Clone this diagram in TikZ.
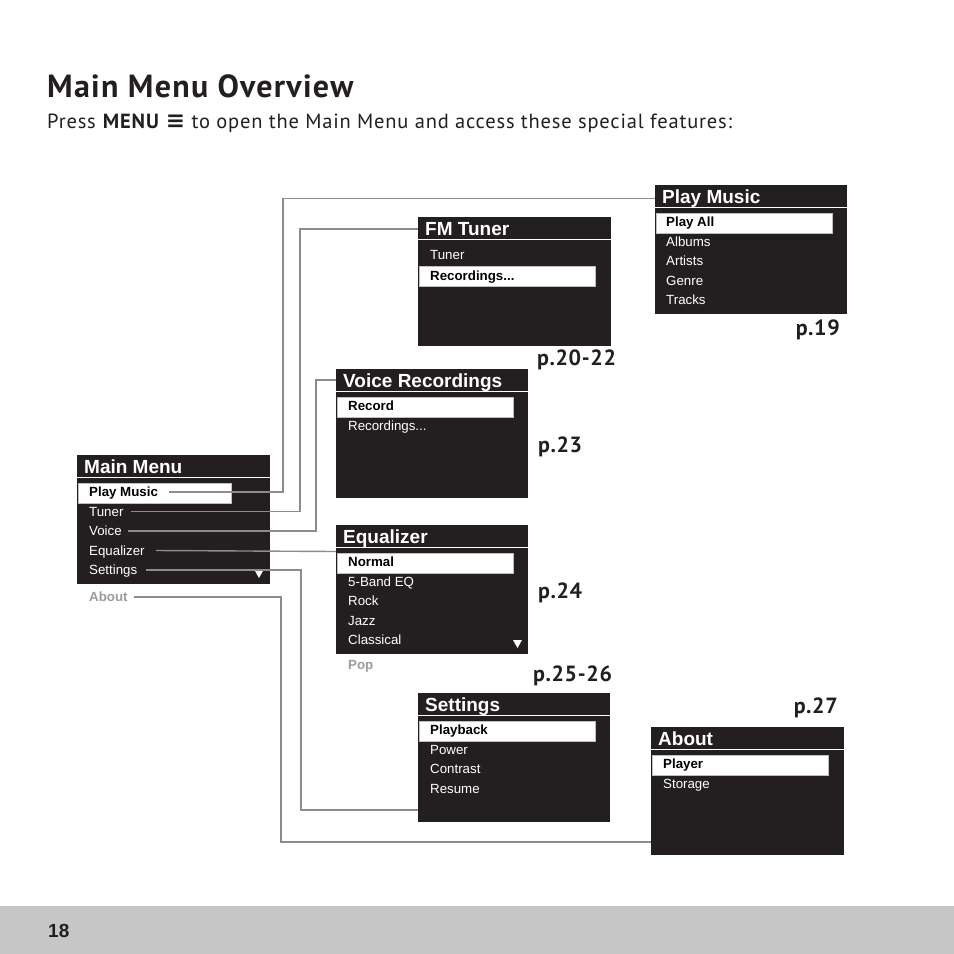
\documentclass[tikz,border=0pt]{standalone}
\usepackage{fontspec}
\setmainfont{PT Sans}
\newfontfamily\lcd{Liberation Sans}
\newfontfamily\headfont[LetterSpace=4]{PT Sans}
\newfontfamily\pagefont[LetterSpace=3]{PT Sans}
\newfontfamily\symfont{DejaVu Sans}
\usetikzlibrary{calc,positioning}
\definecolor{lcdblack}{HTML}{231F20}
\definecolor{ink}{HTML}{231F20}
\definecolor{wiregray}{HTML}{8C8C8C}
\definecolor{dimgray}{HTML}{9B9B9B}
\definecolor{footgray}{HTML}{C6C6C6}

\begin{document}
\begin{tikzpicture}[x=1pt, y=-1pt,
    screen/.style={fill=lcdblack, anchor=north west, minimum width=193pt, minimum height=129pt, inner sep=0pt},
    bar/.style={white, line width=1pt},
    scrtitle/.style={anchor=base west, inner sep=0pt, text=white, font=\lcd\bfseries\fontsize{19}{20}\selectfont},
    hilite/.style={fill=white, draw=black!25, line width=0.5pt, anchor=north west, minimum width=176pt, minimum height=20pt, inner sep=0pt},
    item/.style={anchor=base west, inner sep=0pt, text height=9pt, text depth=0pt, text=white, font=\lcd\fontsize{13.3}{14}\selectfont},
    itemsel/.style={item, text=black, font=\lcd\bfseries\fontsize{13.3}{14}\selectfont},
    more/.style={item, text=dimgray, font=\lcd\bfseries\fontsize{13.3}{14}\selectfont},
    link/.style={wiregray, line width=1.4pt},
    page/.style={inner sep=0pt, text=ink, font=\pagefont\bfseries\fontsize{22}{24}\selectfont}
]
    \useasboundingbox[fill=white] (0,0) rectangle (954,954);

    % Heading
    \node[anchor=base west, inner sep=0pt, text=ink, font=\headfont\bfseries\fontsize{32}{34}\selectfont] (title) at (47,97) {Main Menu Overview};
    \node[anchor=base west, inner sep=0pt, text=ink, font=\headfont\fontsize{20.5}{22}\selectfont] (intro) at (47,128)
        {Press \textbf{MENU} {\symfont\bfseries\fontsize{23}{24}\selectfont ≡} to open the Main Menu and access these special features:};

    % === MAIN MENU ===
    \node[screen] (mm) at (77,455) {};
    \draw[bar] ([yshift=-22.5pt]mm.north west) -- ([yshift=-22.5pt]mm.north east);
    \node[scrtitle] (mmT) at (84,473) {Main Menu};
    \node[hilite, minimum width=153pt] (mmH) at (78,483) {};
    \node[itemsel] (mm1) at (89,496.5) {Play Music};
    \foreach \t [count=\i from 2] in {Tuner,Voice,Equalizer,Settings}
        \node[item] (mm\i) at (89,{477+19.5*\i}) {\t};
    \node[more] (mm6) at (89,601.5) {About};
    \fill[white] (254.5,570) -- (263.5,570) -- (259,578) -- cycle;

    % === PLAY MUSIC ===
    \node[screen, minimum width=192pt] (pm) at (655,185) {};
    \draw[bar] ([yshift=-22.5pt]pm.north west) -- ([yshift=-22.5pt]pm.north east);
    \node[scrtitle] (pmT) at (662,203) {Play Music};
    \node[hilite] (pmH) at (656,213) {};
    \node[itemsel] (pm1) at (666,226.5) {Play All};
    \foreach \t [count=\i from 2] in {Albums,Artists,Genre,Tracks}
        \node[item] (pm\i) at (666,{207+19.5*\i}) {\t};

    % === FM TUNER ===
    \node[screen] (fm) at (418,217) {};
    \draw[bar] ([yshift=-22.5pt]fm.north west) -- ([yshift=-22.5pt]fm.north east);
    \node[scrtitle] (fmT) at (425,235) {FM Tuner};
    \node[hilite] (fmH) at (419,266) {};
    \node[item] (fm1) at (430,259.5) {Tuner};
    \node[itemsel] (fm2) at (430,280) {Recordings...};

    % === VOICE RECORDINGS ===
    \node[screen, minimum width=192pt] (vr) at (336,369) {};
    \draw[bar] ([yshift=-22.5pt]vr.north west) -- ([yshift=-22.5pt]vr.north east);
    \node[scrtitle] (vrT) at (343,387) {Voice Recordings};
    \node[hilite] (vrH) at (337,397) {};
    \node[itemsel] (vr1) at (348,410.5) {Record};
    \node[item] (vr2) at (348,430) {Recordings...};

    % === EQUALIZER ===
    \node[screen, minimum width=192pt] (eq) at (336,525) {};
    \draw[bar] ([yshift=-22.5pt]eq.north west) -- ([yshift=-22.5pt]eq.north east);
    \node[scrtitle] (eqT) at (343,543) {Equalizer};
    \node[hilite] (eqH) at (337,553) {};
    \node[itemsel] (eq1) at (348,566.5) {Normal};
    \foreach \t [count=\i from 2] in {5-Band EQ,Rock,Jazz,Classical}
        \node[item] (eq\i) at (348,{547+19.5*\i}) {\t};
    \node[more] (eq6) at (348,669.5) {Pop};
    \fill[white] (513,640) -- (522,640) -- (517.5,648) -- cycle;

    % === SETTINGS ===
    \node[screen, minimum width=192pt] (st) at (418,693) {};
    \draw[bar] ([yshift=-22.5pt]st.north west) -- ([yshift=-22.5pt]st.north east);
    \node[scrtitle] (stT) at (425,711) {Settings};
    \node[hilite] (stH) at (419,721) {};
    \node[itemsel] (st1) at (430,734.5) {Playback};
    \foreach \t [count=\i from 2] in {Power,Contrast,Resume}
        \node[item] (st\i) at (430,{715+19.5*\i}) {\t};

    % === ABOUT ===
    \node[screen, minimum height=128pt] (ab) at (651,727) {};
    \draw[bar] ([yshift=-22.5pt]ab.north west) -- ([yshift=-22.5pt]ab.north east);
    \node[scrtitle] (abT) at (658,745) {About};
    \node[hilite] (abH) at (652,755) {};
    \node[itemsel] (ab1) at (663,768.5) {Player};
    \node[item] (ab2) at (663,788) {Storage};

    % Entry points on the sub-screens
    \coordinate (pmIn) at ([yshift=-13.5pt]pm.north west);
    \coordinate (fmIn) at ([yshift=-12pt]fm.north west);
    \coordinate (vrIn) at ([yshift=-11pt]vr.north west);
    \coordinate (eqIn) at ([yshift=-26.5pt]eq.north west);
    \coordinate (stIn) at ([yshift=-117pt]st.north west);
    \coordinate (abIn) at ([yshift=-115pt]ab.north west);

    % Connectors
    \draw[link] ([xshift=11pt]mm1.east) -| (283,0 |- pmIn) -- (pmIn);
    \draw[link] ([xshift=7pt]mm2.east) -| (300,0 |- fmIn) -- (fmIn);
    \draw[link] ([xshift=6pt]mm3.east) -| (316,0 |- vrIn) -- (vrIn);
    \draw[link] ([xshift=11pt]mm4.east) -- (eqIn);
    \draw[link] ([xshift=9pt]mm5.east) -| (301,0 |- stIn) -- (stIn);
    \draw[link] ([xshift=6pt]mm6.east) -| (281,0 |- abIn) -- (abIn);

    % Page references
    \node[page, anchor=east] (pg19) at (840,330) {p.19};
    \node[page, anchor=west] (pg20) at (537,360) {p.20-22};
    \node[page, anchor=west] (pg23) at (538,447) {p.23};
    \node[page, anchor=west] (pg24) at (538,593) {p.24};
    \node[page, anchor=west] (pg25) at (533,676) {p.25-26};
    \node[page, anchor=east] (pg27) at (838,708) {p.27};

    % Footer
    \fill[footgray] (0,906) rectangle (954,954);
    \node[anchor=base west, inner sep=0pt, text=ink, font=\lcd\bfseries\fontsize{19}{20}\selectfont] (pnum) at (48,937) {18};
\end{tikzpicture}
\end{document}
